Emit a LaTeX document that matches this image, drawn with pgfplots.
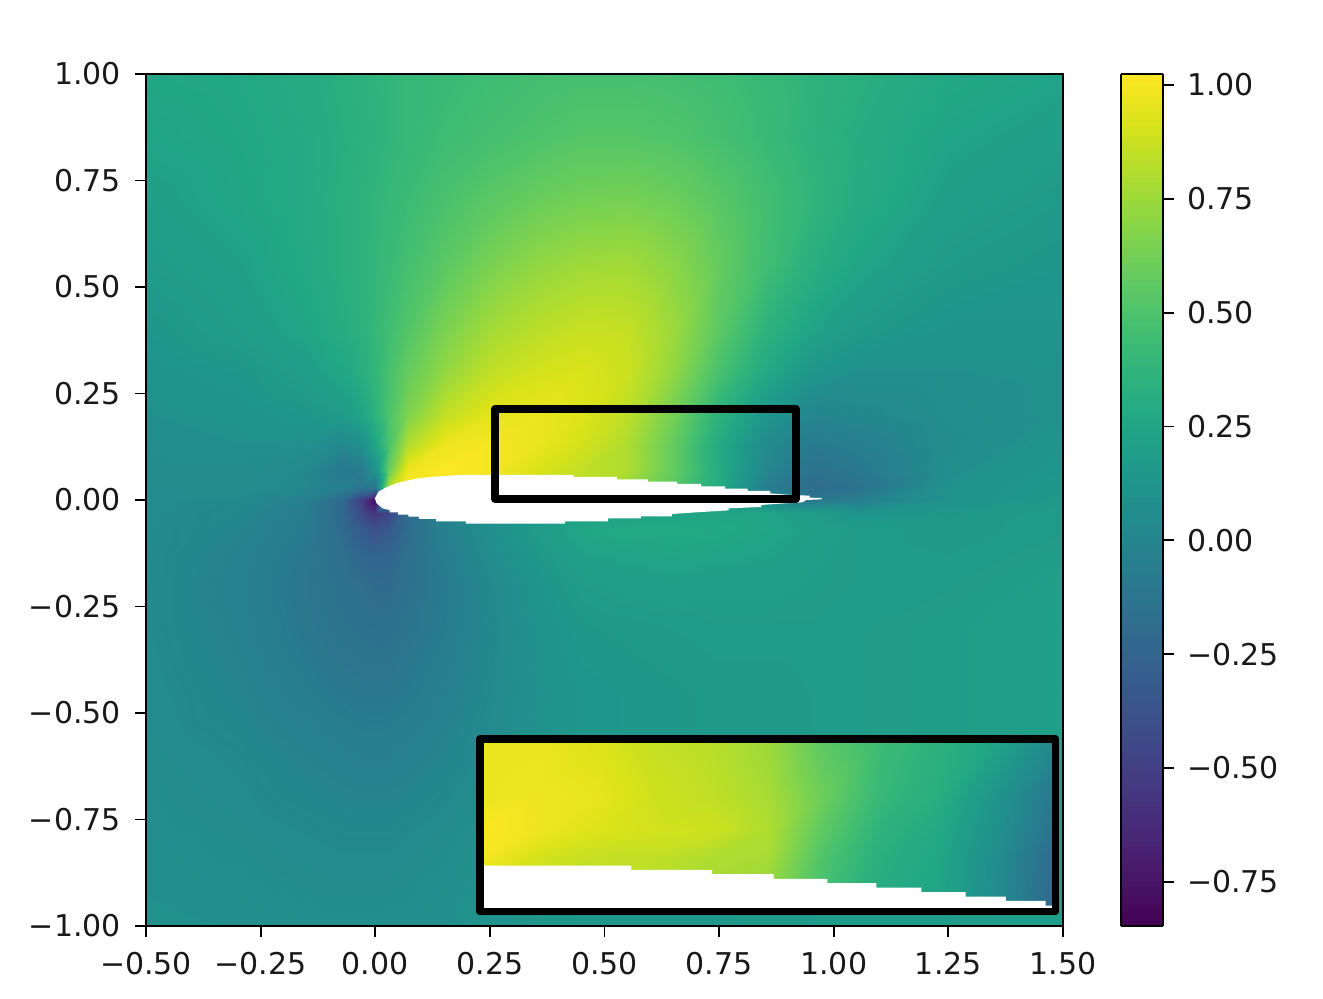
\documentclass[border=0pt]{standalone}
\usepackage{fontspec}
\setmainfont{DejaVu Sans}
\usepackage{pgfplots}
\usepackage{pgfplotstable}
\pgfplotsset{compat=1.18}

% main field: x y value, one line per grid row
\pgfplotstableread[row sep=\\]{
x y v\\
-.5 1 .26\\ -.3 1 .27\\ -.15 1 .30\\ -.07 1 .33\\ -.03 1 .35\\ 0 1 .37\\ .03 1 .38\\ .07 1 .40\\ .15 1 .42\\ .25 1 .44\\ .35 1 .46\\ .45 1 .47\\ .55 1 .47\\ .65 1 .46\\ .75 1 .44\\ .85 1 .41\\ .95 1 .37\\ 1.05 1 .33\\ 1.25 1 .27\\ 1.5 1 .24\\
-.5 .85 .24\\ -.3 .85 .26\\ -.15 .85 .29\\ -.07 .85 .32\\ -.03 .85 .34\\ 0 .85 .36\\ .03 .85 .38\\ .07 .85 .40\\ .15 .85 .44\\ .25 .85 .47\\ .35 .85 .50\\ .45 .85 .53\\ .55 .85 .53\\ .65 .85 .51\\ .75 .85 .47\\ .85 .85 .42\\ .95 .85 .36\\ 1.05 .85 .31\\ 1.25 .85 .24\\ 1.5 .85 .20\\
-.5 .7 .21\\ -.3 .7 .25\\ -.15 .7 .29\\ -.07 .7 .33\\ -.03 .7 .36\\ 0 .7 .38\\ .03 .7 .40\\ .07 .7 .43\\ .15 .7 .49\\ .25 .7 .55\\ .35 .7 .60\\ .45 .7 .63\\ .55 .7 .64\\ .65 .7 .61\\ .75 .7 .54\\ .85 .7 .46\\ .95 .7 .38\\ 1.05 .7 .30\\ 1.25 .7 .21\\ 1.5 .7 .17\\
-.5 .55 .18\\ -.3 .55 .22\\ -.15 .55 .28\\ -.07 .55 .33\\ -.03 .55 .36\\ 0 .55 .39\\ .03 .55 .42\\ .07 .55 .47\\ .15 .55 .55\\ .25 .55 .65\\ .35 .55 .72\\ .45 .55 .76\\ .55 .55 .77\\ .65 .55 .70\\ .75 .55 .58\\ .85 .55 .45\\ .95 .55 .33\\ 1.05 .55 .25\\ 1.25 .55 .17\\ 1.5 .55 .14\\
-.5 .4 .14\\ -.3 .4 .19\\ -.15 .4 .25\\ -.07 .4 .31\\ -.03 .4 .35\\ 0 .4 .40\\ .03 .4 .45\\ .07 .4 .52\\ .15 .4 .65\\ .25 .4 .77\\ .35 .4 .83\\ .45 .4 .87\\ .55 .4 .86\\ .65 .4 .75\\ .75 .4 .55\\ .85 .4 .36\\ .95 .4 .24\\ 1.05 .4 .17\\ 1.25 .4 .12\\ 1.5 .4 .12\\
-.5 .3 .11\\ -.3 .3 .14\\ -.15 .3 .20\\ -.07 .3 .26\\ -.03 .3 .32\\ 0 .3 .39\\ .03 .3 .48\\ .07 .3 .58\\ .15 .3 .72\\ .25 .3 .85\\ .35 .3 .90\\ .45 .3 .92\\ .55 .3 .88\\ .65 .3 .72\\ .75 .3 .48\\ .85 .3 .28\\ .95 .3 .14\\ 1.05 .3 .09\\ 1.25 .3 .09\\ 1.5 .3 .10\\
-.5 .2 .09\\ -.3 .2 .11\\ -.15 .2 .14\\ -.07 .2 .18\\ -.03 .2 .25\\ 0 .2 .36\\ .03 .2 .50\\ .07 .2 .66\\ .15 .2 .85\\ .25 .2 .95\\ .35 .2 .97\\ .45 .2 .93\\ .55 .2 .84\\ .65 .2 .63\\ .75 .2 .35\\ .85 .2 .14\\ .95 .2 0\\ 1.05 .2 .02\\ 1.25 .2 .07\\ 1.5 .2 .10\\
-.5 .13 .07\\ -.3 .13 .09\\ -.15 .13 .08\\ -.07 .13 .02\\ -.03 .13 .08\\ 0 .13 .25\\ .03 .13 .50\\ .07 .13 .80\\ .15 .13 .98\\ .25 .13 1\\ .35 .13 .97\\ .45 .13 .90\\ .55 .13 .80\\ .65 .13 .58\\ .75 .13 .29\\ .85 .13 .05\\ .95 .13 -.08\\ 1.05 .13 -.05\\ 1.25 .13 .06\\ 1.5 .13 .12\\
-.5 .07 .06\\ -.3 .07 .06\\ -.15 .07 .03\\ -.07 .07 -.10\\ -.03 .07 -.08\\ 0 .07 .10\\ .03 .07 .60\\ .07 .07 .98\\ .15 .07 1.02\\ .25 .07 1\\ .35 .07 .92\\ .45 .07 .85\\ .55 .07 .80\\ .65 .07 .58\\ .75 .07 .30\\ .85 .07 .02\\ .95 .07 -.15\\ 1.05 .07 -.10\\ 1.25 .07 .08\\ 1.5 .07 .14\\
-.5 .03 .05\\ -.3 .03 .06\\ -.15 .03 .02\\ -.07 .03 -.05\\ -.03 .03 -.12\\ 0 .03 -.10\\ .03 .03 .80\\ .07 .03 1\\ .15 .03 1\\ .25 .03 1\\ .35 .03 .90\\ .45 .03 .85\\ .55 .03 .75\\ .65 .03 .55\\ .75 .03 .30\\ .85 .03 -.05\\ .95 .03 -.20\\ 1.05 .03 -.15\\ 1.25 .03 .10\\ 1.5 .03 .15\\
-.5 0 .04\\ -.3 0 .03\\ -.15 0 -.04\\ -.07 0 -.22\\ -.03 0 -.50\\ 0 0 -.80\\ .03 0 .30\\ .07 0 .50\\ .15 0 .70\\ .25 0 .70\\ .35 0 .70\\ .45 0 .70\\ .55 0 .60\\ .65 0 .50\\ .75 0 .30\\ .85 0 .10\\ .95 0 -.10\\ 1.05 0 -.05\\ 1.25 0 .10\\ 1.5 0 .16\\
-.5 -.03 .04\\ -.3 -.03 .02\\ -.15 -.03 -.07\\ -.07 -.03 -.22\\ -.03 -.03 -.42\\ 0 -.03 -.55\\ .03 -.03 -.45\\ .07 -.03 -.20\\ .15 -.03 0\\ .25 -.03 .10\\ .35 -.03 .15\\ .45 -.03 .20\\ .55 -.03 .22\\ .65 -.03 .24\\ .75 -.03 .25\\ .85 -.03 .24\\ .95 -.03 .20\\ 1.05 -.03 .12\\ 1.25 -.03 .15\\ 1.5 -.03 .18\\
-.5 -.07 .04\\ -.3 -.07 0\\ -.15 -.07 -.08\\ -.07 -.07 -.20\\ -.03 -.07 -.30\\ 0 -.07 -.38\\ .03 -.07 -.33\\ .07 -.07 -.20\\ .15 -.07 -.03\\ .25 -.07 .08\\ .35 -.07 .18\\ .45 -.07 .26\\ .55 -.07 .28\\ .65 -.07 .28\\ .75 -.07 .27\\ .85 -.07 .25\\ .95 -.07 .22\\ 1.05 -.07 .18\\ 1.25 -.07 .16\\ 1.5 -.07 .18\\
-.5 -.13 .04\\ -.3 -.13 -.02\\ -.15 -.13 -.10\\ -.07 -.13 -.17\\ -.03 -.13 -.22\\ 0 -.13 -.25\\ .03 -.13 -.24\\ .07 -.13 -.17\\ .15 -.13 -.06\\ .25 -.13 .06\\ .35 -.13 .15\\ .45 -.13 .22\\ .55 -.13 .24\\ .65 -.13 .25\\ .75 -.13 .24\\ .85 -.13 .23\\ .95 -.13 .20\\ 1.05 -.13 .18\\ 1.25 -.13 .17\\ 1.5 -.13 .19\\
-.5 -.2 .04\\ -.3 -.2 -.03\\ -.15 -.2 -.11\\ -.07 -.2 -.16\\ -.03 -.2 -.18\\ 0 -.2 -.20\\ .03 -.2 -.20\\ .07 -.2 -.16\\ .15 -.2 -.08\\ .25 -.2 .03\\ .35 -.2 .12\\ .45 -.2 .18\\ .55 -.2 .20\\ .65 -.2 .21\\ .75 -.2 .20\\ .85 -.2 .20\\ .95 -.2 .19\\ 1.05 -.2 .18\\ 1.25 -.2 .18\\ 1.5 -.2 .20\\
-.5 -.3 .04\\ -.3 -.3 -.02\\ -.15 -.3 -.10\\ -.07 -.3 -.14\\ -.03 -.3 -.15\\ 0 -.3 -.16\\ .03 -.3 -.16\\ .07 -.3 -.13\\ .15 -.3 -.07\\ .25 -.3 .02\\ .35 -.3 .10\\ .45 -.3 .15\\ .55 -.3 .16\\ .65 -.3 .17\\ .75 -.3 .18\\ .85 -.3 .18\\ .95 -.3 .18\\ 1.05 -.3 .18\\ 1.25 -.3 .19\\ 1.5 -.3 .21\\
-.5 -.45 .05\\ -.3 -.45 0\\ -.15 -.45 -.06\\ -.07 -.45 -.09\\ -.03 -.45 -.10\\ 0 -.45 -.10\\ .03 -.45 -.10\\ .07 -.45 -.08\\ .15 -.45 -.04\\ .25 -.45 .03\\ .35 -.45 .09\\ .45 -.45 .13\\ .55 -.45 .14\\ .65 -.45 .15\\ .75 -.45 .16\\ .85 -.45 .16\\ .95 -.45 .17\\ 1.05 -.45 .18\\ 1.25 -.45 .19\\ 1.5 -.45 .21\\
-.5 -.6 .06\\ -.3 -.6 .03\\ -.15 -.6 -.01\\ -.07 -.6 -.03\\ -.03 -.6 -.04\\ 0 -.6 -.04\\ .03 -.6 -.04\\ .07 -.6 -.03\\ .15 -.6 0\\ .25 -.6 .05\\ .35 -.6 .10\\ .45 -.6 .13\\ .55 -.6 .14\\ .65 -.6 .15\\ .75 -.6 .16\\ .85 -.6 .16\\ .95 -.6 .17\\ 1.05 -.6 .18\\ 1.25 -.6 .19\\ 1.5 -.6 .21\\
-.5 -.8 .08\\ -.3 -.8 .06\\ -.15 -.8 .04\\ -.07 -.8 .03\\ -.03 -.8 .03\\ 0 -.8 .03\\ .03 -.8 .03\\ .07 -.8 .04\\ .15 -.8 .06\\ .25 -.8 .09\\ .35 -.8 .12\\ .45 -.8 .14\\ .55 -.8 .15\\ .65 -.8 .16\\ .75 -.8 .16\\ .85 -.8 .16\\ .95 -.8 .17\\ 1.05 -.8 .18\\ 1.25 -.8 .19\\ 1.5 -.8 .20\\
-.5 -1 .10\\ -.3 -1 .09\\ -.15 -1 .08\\ -.07 -1 .08\\ -.03 -1 .08\\ 0 -1 .08\\ .03 -1 .08\\ .07 -1 .08\\ .15 -1 .09\\ .25 -1 .11\\ .35 -1 .13\\ .45 -1 .14\\ .55 -1 .15\\ .65 -1 .15\\ .75 -1 .15\\ .85 -1 .16\\ .95 -1 .17\\ 1.05 -1 .17\\ 1.25 -1 .18\\ 1.5 -1 .19\\
}\fieldtable

% magnified view in the lower right
\pgfplotstableread[row sep=\\]{
x y v\\
.232 -.565 .97\\ .361 -.565 .97\\ .485 -.565 .93\\ .608 -.565 .86\\ .732 -.565 .83\\ .856 -.565 .75\\ .979 -.565 .55\\ 1.103 -.565 .43\\ 1.227 -.565 .35\\ 1.35 -.565 .25\\ 1.48 -.565 .03\\
.232 -.696 .97\\ .361 -.696 .98\\ .485 -.696 .96\\ .608 -.696 .89\\ .732 -.696 .85\\ .856 -.696 .78\\ .979 -.696 .60\\ 1.103 -.696 .40\\ 1.227 -.696 .32\\ 1.35 -.696 .13\\ 1.48 -.696 -.10\\
.232 -.775 1.02\\ .361 -.775 .98\\ .485 -.775 .93\\ .608 -.775 .90\\ .732 -.775 .89\\ .856 -.775 .80\\ .979 -.775 .55\\ 1.103 -.775 .36\\ 1.227 -.775 .28\\ 1.35 -.775 .10\\ 1.48 -.775 -.14\\
.232 -.837 1\\ .361 -.837 .90\\ .485 -.837 .86\\ .608 -.837 .85\\ .732 -.837 .80\\ .856 -.837 .78\\ .979 -.837 .50\\ 1.103 -.837 .33\\ 1.227 -.837 .26\\ 1.35 -.837 .07\\ 1.48 -.837 -.20\\
.232 -.96 .90\\ .361 -.96 .85\\ .485 -.96 .85\\ .608 -.96 .80\\ .732 -.96 .75\\ .856 -.96 .70\\ .979 -.96 .45\\ 1.103 -.96 .30\\ 1.227 -.96 .25\\ 1.35 -.96 .05\\ 1.48 -.96 -.22\\
}\insettable

\newcommand{\tickfont}{\fontsize{15}{17}\selectfont}

\begin{document}
\begin{tikzpicture}
\useasboundingbox (0pt,0pt) rectangle (661.5pt,499.5pt);
\begin{axis}[
    at={(73pt,36.5pt)}, anchor=south west,
    scale only axis, width=458.5pt, height=426pt,
    xmin=-0.5, xmax=1.5, ymin=-1, ymax=1,
    axis on top, clip=true,
    axis line style={line width=1pt},
    tick style={black,line width=0.9pt},
    major tick length=5.5pt,
    tick align=outside,
    xtick pos=bottom, ytick pos=left,
    tick label style={font=\tickfont,text=black!90},
    xticklabel style={yshift=-4pt},
    yticklabel style={xshift=-3.5pt},
    xtick={-0.5,-0.25,0,0.25,0.5,0.75,1,1.25,1.5},
    xticklabels={−0.50,−0.25,0.00,0.25,0.50,0.75,1.00,1.25,1.50},
    ytick={-1,-0.75,-0.5,-0.25,0,0.25,0.5,0.75,1},
    yticklabels={−1.00,−0.75,−0.50,−0.25,0.00,0.25,0.50,0.75,1.00},
    colormap/viridis,
    point meta min=-0.847, point meta max=1.024,
    colorbar sampled,
    colorbar style={
        samples=150,
        at={(1.0632,1)}, anchor=north west,
        width=21pt, height=426pt,
        axis on top,
        axis line style={line width=1pt},
        tick style={black,line width=0.9pt},
        major tick length=5.5pt,
        tick align=outside,
        ytick={-0.75,-0.5,-0.25,0,0.25,0.5,0.75,1},
        yticklabels={−0.75,−0.50,−0.25,0.00,0.25,0.50,0.75,1.00},
        ytick pos=right,
        yticklabel pos=right,
        yticklabel style={xshift=3pt},
        tick label style={font=\tickfont,text=black!90},
    },
]
\addplot[surf,shader=interp,mesh/cols=20,point meta=explicit] table[x=x,y=y,meta=v] {\fieldtable};
\addplot[surf,shader=interp,mesh/cols=11,point meta=explicit] table[x=x,y=y,meta=v] {\insettable};
% airfoil, stepped as in the picture
\addplot[fill=white,draw=none] coordinates {
(-.001,.0039)(.0075,.0196)(.0236,.0297)(.0462,.0391)(.0687,.0454)(.0950,.0509)(.1288,.0548)(.1851,.0587)
(.4329,.0587)(.4329,.0540)(.5268,.0540)(.5268,.0485)(.5944,.0485)(.5944,.0430)(.6582,.0430)(.6582,.0376)
(.7108,.0376)(.7108,.0321)(.7633,.0321)(.7633,.0266)(.8122,.0266)(.8122,.0211)(.8610,.0211)(.8610,.0156)
(.9060,.0117)(.9474,.0102)(.9474,.0055)(.9737,.0047)(.9737,.0016)(.9398,0)(.9323,-.0055)(.8948,-.0078)
(.8422,-.0117)(.8422,-.0164)(.7709,-.0196)(.7709,-.0243)(.6995,-.0290)(.6469,-.0329)(.6469,-.0383)
(.5794,-.0383)(.5794,-.0430)(.5080,-.0430)(.5080,-.0501)(.4141,-.0501)(.4141,-.0556)(.1978,-.0556)
(.1978,-.0501)(.1325,-.0501)(.1325,-.0446)(.0950,-.0446)(.0950,-.0391)(.0724,-.0391)(.0724,-.0344)
(.0499,-.0344)(.0499,-.0290)(.0311,-.0290)(.0311,-.0235)(.0161,-.0196)(.0030,-.0078)
} -- cycle;
% airfoil in the magnified view
\addplot[fill=white,draw=none] coordinates {
(.232,-.8582)(.5586,-.8582)(.5586,-.8683)(.7345,-.8683)(.7345,-.8785)(.8686,-.8785)(.8686,-.8895)
(.9859,-.8895)(.9859,-.8996)(1.0932,-.8996)(1.0932,-.9098)(1.1913,-.9098)(1.1913,-.9207)(1.2876,-.9207)
(1.2876,-.9309)(1.3756,-.9309)(1.3756,-.9411)(1.4619,-.9411)(1.4619,-.952)(1.4762,-.952)(1.4762,-.965)(.232,-.965)
} -- cycle;
% zoom boxes
\addplot[black,line width=3.75pt,line join=round] coordinates {(.261,.0020)(.918,.0020)(.918,.2136)(.261,.2136)} -- cycle;
\addplot[black,line width=3.75pt,line join=round] coordinates {(.2284,-.9665)(1.4836,-.9665)(1.4836,-.5606)(.2284,-.5606)} -- cycle;
\end{axis}
\end{tikzpicture}
\end{document}
